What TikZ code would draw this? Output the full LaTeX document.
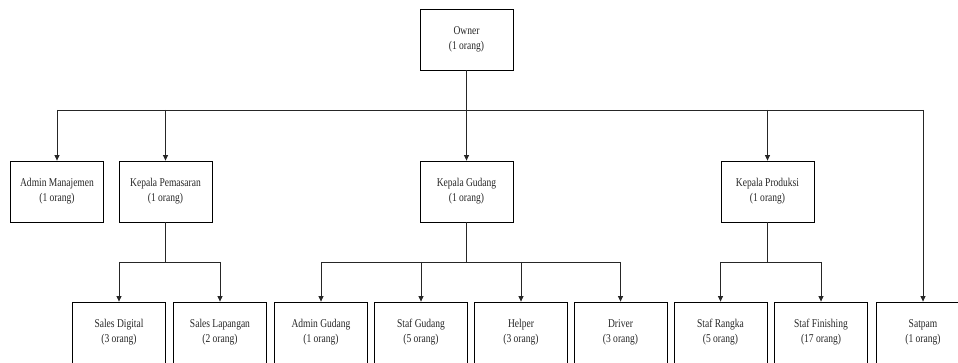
\documentclass[tikz,border=0pt]{standalone}
\usepackage{fontspec}
\setmainfont{Liberation Serif}
\newfontfamily\boxfont[FakeStretch=0.8]{Liberation Serif}
\usetikzlibrary{arrows.meta}
\tikzset{
  unit/.style={draw, line width=0.8pt, minimum width=93pt, minimum height=61pt,
    inner sep=0pt, align=center, text=black!85, font=\boxfont\fontsize{11.9}{15}\selectfont},
  link/.style={line width=0.8pt, black!85},
  arr/.style={link, -{Triangle[width=5pt,length=5.5pt]}}
}
\begin{document}
\begin{tikzpicture}[x=1pt,y=-1pt]
      % Canvas
      \useasboundingbox (0,0) rectangle (958,363);
      \clip (0,0) rectangle (958,363);

      % Top
      \node[unit] (owner) at (466.5,39.5) {Owner\\(1 orang)};

      % Second level
      \node[unit] (admin) at (57,191.5) {Admin Manajemen\\(1 orang)};
      \node[unit] (pemasaran) at (165.5,191.5) {Kepala Pemasaran\\(1 orang)};
      \node[unit] (gudang) at (466.5,191.5) {Kepala Gudang\\(1 orang)};
      \node[unit] (produksi) at (767.5,191.5) {Kepala Produksi\\(1 orang)};

      % Third level
      \foreach \id/\x/\txt/\cnt in {sdigital/119/Sales Digital/3,
          slapangan/220/Sales Lapangan/2, adming/321/Admin Gudang/1,
          stafg/421/Staf Gudang/5, helper/521/Helper/3, driver/620.5/Driver/3,
          rangka/720.5/Staf Rangka/5, finishing/821/Staf Finishing/17,
          satpam/923/Satpam/1}
      \node[unit] (\id) at (\x,332.5) {\txt\\(\cnt{} orang)};

      % Owner to second level
      \coordinate (bus) at (466.5,110);
      \draw[link] (owner.south) -- (bus);
      \draw[link] (bus -| admin) -- (bus -| satpam);
      \foreach \t in {admin,pemasaran,gudang,produksi,satpam}
      \draw[arr] (bus -| \t) -- (\t.north);

      % Kepala Pemasaran
      \coordinate (pbus) at (165.5,262);
      \draw[link] (pemasaran.south) -- (pbus);
      \draw[link] (pbus -| sdigital) -- (pbus -| slapangan);
      \foreach \t in {sdigital,slapangan}
      \draw[arr] (pbus -| \t) -- (\t.north);

      % Kepala Gudang
      \coordinate (gbus) at (466.5,262);
      \draw[link] (gudang.south) -- (gbus);
      \draw[link] (gbus -| adming) -- (gbus -| driver);
      \foreach \t in {adming,stafg,helper,driver}
      \draw[arr] (gbus -| \t) -- (\t.north);

      % Kepala Produksi
      \coordinate (rbus) at (767.5,262);
      \draw[link] (produksi.south) -- (rbus);
      \draw[link] (rbus -| rangka) -- (rbus -| finishing);
      \foreach \t in {rangka,finishing}
      \draw[arr] (rbus -| \t) -- (\t.north);
    \end{tikzpicture}
\end{document}
